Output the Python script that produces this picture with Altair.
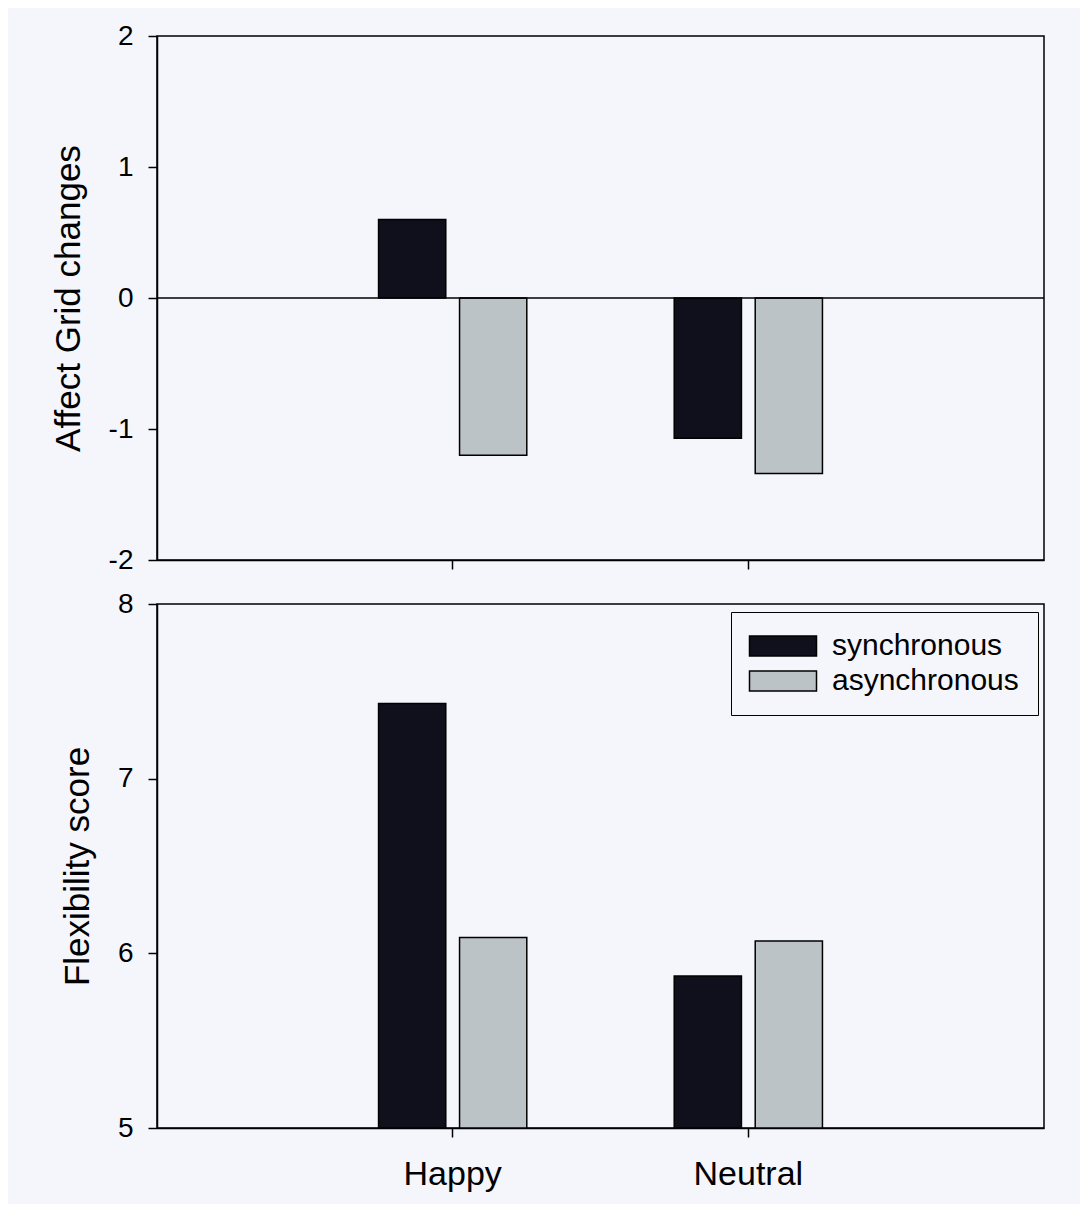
import altair as alt
import pandas as pd

emotions = ["Happy", "Neutral"]
conditions = ["synchronous", "asynchronous"]
affect_sync = [0.60, -1.07]
affect_async = [-1.20, -1.34]
flex_sync = [7.43, 5.87]
flex_async = [6.09, 6.07]

affect_ticks = [-2, -1, 0, 1, 2]
flex_ticks = [5, 6, 7, 8]

BG = "#f5f6fc"
DARK = "#10101c"
PAT = "#bcc3c6"
FONT = "Liberation Sans"


def make_df(sync, asyn):
    rows = []
    for i, e in enumerate(emotions):
        rows.append({"emotion": e, "condition": "synchronous", "value": sync[i]})
        rows.append({"emotion": e, "condition": "asynchronous", "value": asyn[i]})
    return pd.DataFrame(rows)


df_top = make_df(affect_sync, affect_async)
df_bot = make_df(flex_sync, flex_async)

xscale = alt.Scale(paddingInner=0, paddingOuter=0.5)
xoffscale = alt.Scale(paddingInner=0.17, paddingOuter=0.91)


def color_enc(legend):
    return alt.Color(
        "condition:N",
        sort=conditions,
        scale=alt.Scale(domain=conditions, range=[DARK, PAT]),
        legend=legend,
    )


top_bars = alt.Chart(df_top).mark_bar(stroke="black", strokeWidth=1.5).encode(
    x=alt.X("emotion:N", sort=emotions, scale=xscale,
            axis=alt.Axis(labels=False, title=None)),
    xOffset=alt.XOffset("condition:N", sort=conditions, scale=xoffscale),
    y=alt.Y("value:Q", scale=alt.Scale(domain=[-2, 2], nice=False),
            axis=alt.Axis(values=affect_ticks, title="Affect Grid changes",
                          labelExpr="'' + datum.value")),
    color=color_enc(None),
)
zero_line = alt.Chart(pd.DataFrame({"value": [0]})).mark_rule(
    color="black", strokeWidth=1.5).encode(y="value:Q")

top = alt.layer(top_bars, zero_line).properties(width=887, height=524)

legend = alt.Legend(
    title=None,
    orient="none",
    legendX=574,
    legendY=8,
    strokeColor="black",
    fillColor=BG,
    padding=19,
    labelFontSize=30,
    labelFont=FONT,
    labelColor="black",
    labelLimit=500,
    labelExpr="datum.label + '\u00a0'",
    symbolType="M-3.35,-1L3.35,-1L3.35,1L-3.35,1Z",
    symbolSize=400,
    symbolStrokeColor="black",
    symbolStrokeWidth=1.5,
    symbolOffset=18,
    labelOffset=34,
    rowPadding=5,
    symbolOpacity=1,
)

bot = alt.Chart(df_bot).mark_bar(stroke="black", strokeWidth=1.5, clip=True).encode(
    x=alt.X("emotion:N", sort=emotions, scale=xscale,
            axis=alt.Axis(title=None, labelFontSize=34, labelPadding=20, labelAngle=0)),
    xOffset=alt.XOffset("condition:N", sort=conditions, scale=xoffscale),
    y=alt.Y("value:Q", scale=alt.Scale(domain=[5, 8], nice=False, zero=False),
            axis=alt.Axis(values=flex_ticks, title="Flexibility score",
                          labelExpr="'' + datum.value")),
    y2=alt.datum(5),
    color=color_enc(legend),
).properties(width=887, height=524)

chart = alt.vconcat(top, bot, spacing=44, bounds="flush").resolve_scale(
    y="independent", color="independent", x="independent"
).properties(
    background=BG,
    padding={"left": 42, "top": 13, "right": 34, "bottom": 12},
).configure_view(
    stroke="black", strokeWidth=1.5
).configure_axis(
    grid=False,
    domainColor="black",
    domainWidth=1.5,
    tickColor="black",
    tickWidth=1.5,
    tickSize=9,
    labelFont=FONT,
    labelFontSize=28,
    labelColor="black",
    labelPadding=15,
    titleFont=FONT,
    titleFontSize=35,
    titleFontWeight="normal",
    titleColor="black",
    titlePadding=22,
)

chart.save("out.html", embed_options={"renderer": "svg", "actions": False})
